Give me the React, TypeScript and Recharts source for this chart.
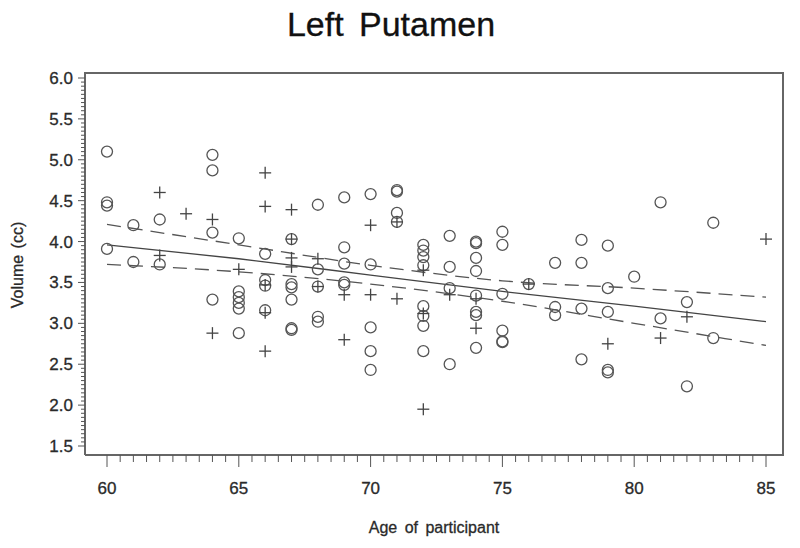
import React from 'react';
import {
  ComposedChart,
  Scatter,
  Line,
  XAxis,
  YAxis,
} from 'recharts';

// circles: [age, volume]
const circlePoints: [number, number][] = [
  [60, 5.1], [60, 4.48], [60, 4.44], [60, 3.91],
  [61, 4.2], [61, 3.75],
  [62, 4.27], [62, 3.72],
  [64, 5.06], [64, 4.87], [64, 4.11], [64, 3.29],
  [65, 4.04], [65, 3.39], [65, 3.32], [65, 3.25], [65, 3.18], [65, 2.88],
  [66, 3.85], [66, 3.53], [66, 3.46], [66, 3.16],
  [67, 4.03], [67, 3.48], [67, 3.44], [67, 3.29], [67, 2.94], [67, 2.92],
  [68, 4.45], [68, 3.66], [68, 3.45], [68, 3.08], [68, 3.02],
  [69, 4.54], [69, 3.93], [69, 3.73], [69, 3.5], [69, 3.47],
  [70, 4.58], [70, 3.72], [70, 2.95], [70, 2.66], [70, 2.43],
  [71, 4.63], [71, 4.61], [71, 4.35], [71, 4.24],
  [72, 3.96], [72, 3.89], [72, 3.81], [72, 3.71], [72, 3.21], [72, 3.09], [72, 2.97], [72, 2.66],
  [73, 4.07], [73, 3.69], [73, 3.43], [73, 2.5],
  [74, 4.0], [74, 3.98], [74, 3.8], [74, 3.64], [74, 3.34], [74, 3.14], [74, 3.1], [74, 2.7],
  [75, 4.12], [75, 3.96], [75, 3.36], [75, 2.91], [75, 2.78], [75, 2.77],
  [76, 3.48],
  [77, 3.74], [77, 3.2], [77, 3.1],
  [78, 4.02], [78, 3.74], [78, 3.18], [78, 2.56],
  [79, 3.95], [79, 3.43], [79, 3.14], [79, 2.43], [79, 2.4],
  [80, 3.57],
  [81, 4.48], [81, 3.06],
  [82, 3.26], [82, 2.23],
  [83, 4.23], [83, 2.82],
];

// plus signs: [age, volume]
const plusPoints: [number, number][] = [
  [62, 4.6], [62, 3.83],
  [63, 4.34],
  [64, 4.27], [64, 2.88],
  [65, 3.66],
  [66, 4.84], [66, 4.43], [66, 3.47], [66, 3.13], [66, 2.66],
  [67, 4.39], [67, 4.03], [67, 3.8], [67, 3.69],
  [68, 3.79], [68, 3.45],
  [69, 3.35], [69, 2.8],
  [70, 4.2], [70, 3.35],
  [71, 4.24], [71, 3.3],
  [72, 3.65], [72, 3.12], [72, 1.95],
  [73, 3.35],
  [74, 3.3], [74, 2.94],
  [76, 3.48],
  [79, 2.75],
  [81, 2.82],
  [82, 3.08],
  [85, 4.03],
];

// regression line and confidence band
const fitAges = [60, 65, 70, 75, 80, 85];
const fitMid = [3.96, 3.79, 3.59, 3.39, 3.21, 3.02];
const fitUpper = [4.21, 3.96, 3.71, 3.52, 3.43, 3.32];
const fitLower = [3.72, 3.63, 3.48, 3.27, 3.0, 2.73];

const majorXTicks = [60, 65, 70, 75, 80, 85];
const majorYTicks = [1.5, 2.0, 2.5, 3.0, 3.5, 4.0, 4.5, 5.0, 5.5, 6.0];

const circleData = circlePoints.map(([age, vol]) => ({ age, vol }));
const plusData = plusPoints.map(([age, vol]) => ({ age, vol }));
const fitData = fitAges.map((age, i) => ({
  age,
  mid: fitMid[i],
  upper: fitUpper[i],
  lower: fitLower[i],
}));

// minor ticks every 0.5 years / 0.05 cc
const xTicks: number[] = [];
for (let i = 0; i <= 50; i++) xTicks.push(60 + i * 0.5);
const yTicks: number[] = [];
for (let i = 0; i <= 90; i++) yTicks.push(Math.round((1.5 + i * 0.05) * 100) / 100);

const FONT = '"Liberation Sans", Arial, sans-serif';
const INK = '#2a2a2a';
const MARK = '#555';
const FRAME = '#666';

const isMajor = (v: number, list: number[]) =>
  list.some((m) => Math.abs(m - v) < 1e-6);

const XTick = (props: any) => {
  const { x, y, payload } = props;
  const major = isMajor(payload.value, majorXTicks);
  return (
    <g>
      <line x1={x} x2={x} y1={y} y2={y + (major ? 12 : 7)} stroke={MARK} strokeWidth={1} />
      {major && (
        <text x={x} y={y + 39} textAnchor="middle" fontSize={17} fontFamily={FONT} fill={INK}
          stroke={INK} strokeWidth={0.3}>
          {payload.value}
        </text>
      )}
    </g>
  );
};

const YTick = (props: any) => {
  const { x, y, payload } = props;
  const major = isMajor(payload.value, majorYTicks);
  return (
    <g>
      <line x1={x - (major ? 7 : 4)} x2={x} y1={y} y2={y} stroke={MARK} strokeWidth={1} />
      {major && (
        <text x={x - 12} y={y + 6} textAnchor="end" fontSize={17} fontFamily={FONT} fill={INK}
          stroke={INK} strokeWidth={0.3}>
          {payload.value.toFixed(1)}
        </text>
      )}
    </g>
  );
};

const CircleMark = (props: any) => (
  <circle cx={props.cx} cy={props.cy} r={5.5} fill="none" stroke={MARK} strokeWidth={1.3} />
);

const PlusMark = (props: any) => {
  const { cx, cy } = props;
  return (
    <g stroke="#444" strokeWidth={1.3}>
      <line x1={cx - 6} x2={cx + 6} y1={cy} y2={cy} />
      <line x1={cx} x2={cx} y1={cy - 6} y2={cy + 6} />
    </g>
  );
};

const App = () => {
  return (
    <div style={{ position: 'absolute', left: 0, top: 0, width: 800, height: 548, background: '#fff' }}>
      <div
        style={{
          position: 'absolute',
          left: 0,
          width: 782,
          top: 7,
          textAlign: 'center',
          fontFamily: FONT,
          fontSize: 34,
          lineHeight: '34px',
          color: '#111',
          wordSpacing: 6,
          WebkitTextStroke: '0.3px #111',
        }}
      >
        Left Putamen
      </div>
      <ComposedChart
        width={800}
        height={548}
        margin={{ top: 73, right: 17, bottom: 53, left: 25 }}
      >
        <XAxis
          dataKey="age"
          type="number"
          domain={[60, 85]}
          ticks={xTicks}
          interval={0}
          padding={{ left: 22, right: 17 }}
          height={40}
          tickSize={0}
          tickMargin={0}
          tickLine={false}
          tick={<XTick />}
          axisLine={{ stroke: FRAME, strokeWidth: 2 }}
        />
        <YAxis
          type="number"
          domain={[1.5, 6]}
          ticks={yTicks}
          interval={0}
          padding={{ top: 5, bottom: 9 }}
          width={60}
          tickSize={0}
          tickMargin={0}
          tickLine={false}
          tick={<YTick />}
          axisLine={{ stroke: FRAME, strokeWidth: 2 }}
        />
        <Line
          data={fitData}
          dataKey="upper"
          type="monotone"
          stroke={MARK}
          strokeWidth={1.3}
          strokeDasharray="14 8"
          dot={false}
          activeDot={false}
          isAnimationActive={false}
        />
        <Line
          data={fitData}
          dataKey="lower"
          type="monotone"
          stroke={MARK}
          strokeWidth={1.3}
          strokeDasharray="14 8"
          dot={false}
          activeDot={false}
          isAnimationActive={false}
        />
        <Line
          data={fitData}
          dataKey="mid"
          type="monotone"
          stroke="#444"
          strokeWidth={1.3}
          dot={false}
          activeDot={false}
          isAnimationActive={false}
        />
        <Scatter data={circleData} dataKey="vol" shape={<CircleMark />} isAnimationActive={false} />
        <Scatter data={plusData} dataKey="vol" shape={<PlusMark />} isAnimationActive={false} />
      </ComposedChart>
      {/* top and right edges of the plot frame */}
      <div
        style={{
          position: 'absolute',
          left: 84,
          top: 72,
          width: 698,
          height: 382,
          borderTop: `2px solid ${FRAME}`,
          borderRight: `2px solid ${FRAME}`,
          pointerEvents: 'none',
        }}
      />
      <div
        style={{
          position: 'absolute',
          left: 18,
          top: 265,
          transform: 'translate(-50%, -50%) rotate(-90deg)',
          whiteSpace: 'nowrap',
          fontFamily: FONT,
          fontSize: 16,
          color: INK,
          wordSpacing: 2,
          WebkitTextStroke: '0.3px #2a2a2a',
        }}
      >
        Volume (cc)
      </div>
      <div
        style={{
          position: 'absolute',
          left: 0,
          width: 868,
          top: 518,
          textAlign: 'center',
          whiteSpace: 'nowrap',
          fontFamily: FONT,
          fontSize: 16,
          lineHeight: '20px',
          color: INK,
          wordSpacing: 3,
          WebkitTextStroke: '0.3px #2a2a2a',
        }}
      >
        Age of participant
      </div>
    </div>
  );
};

export default App;
